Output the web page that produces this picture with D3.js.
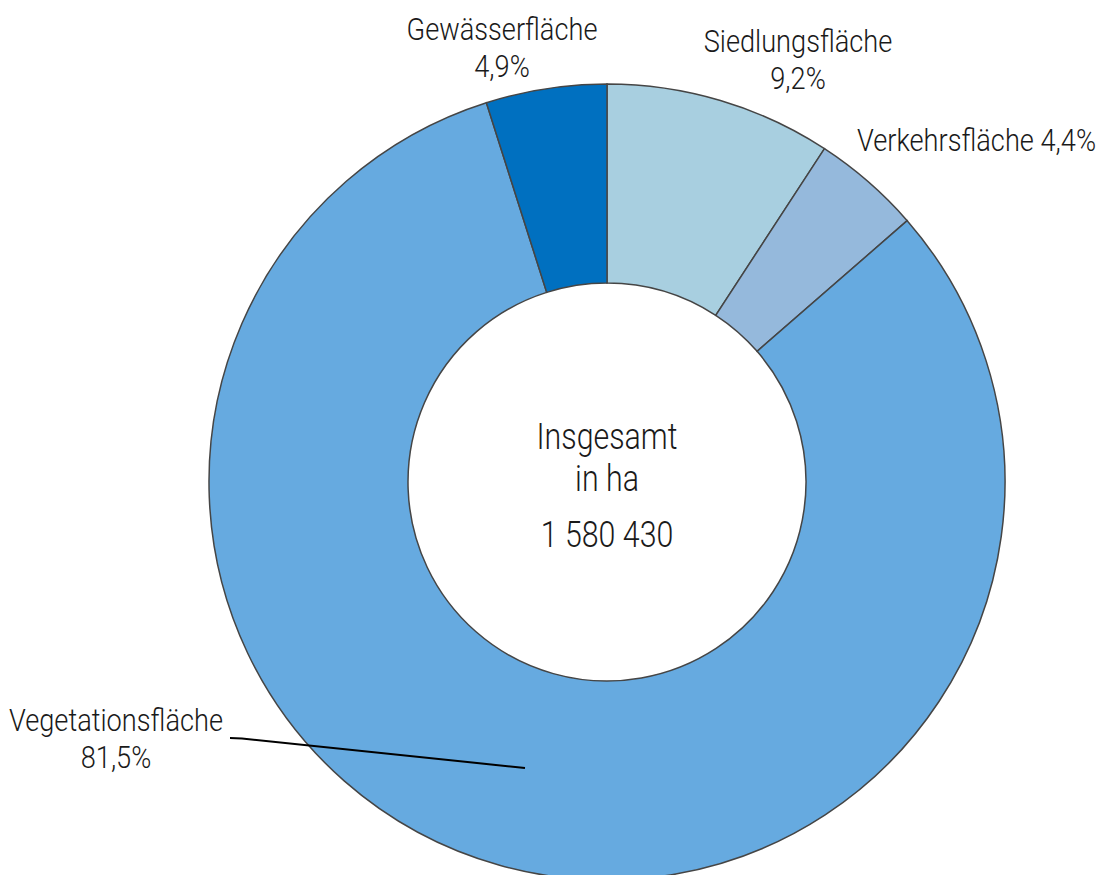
<!DOCTYPE html>
<html>
<head>
    <meta charset="utf-8">
    <script type="text/javascript" src="https://d3js.org/d3.v7.min.js"></script>
    <style>
        body { margin: 0; background: #fff; }
        text { font-family: Roboto, "Liberation Sans", sans-serif; font-weight: 300; fill: #1a1a1a; }
    </style>
</head>
<body>
    <svg width="1098" height="875"></svg>
    <script>
        // Flächennutzung, Anteile in %
        const categories = ["Siedlungsfläche", "Verkehrsfläche", "Vegetationsfläche", "Gewässerfläche"];
        const shares = [9.2, 4.4, 81.5, 4.9];
        const shareLabels = ["9,2%", "4,4%", "81,5%", "4,9%"];
        const colors = ["#a8cfe0", "#95b9dc", "#66aae0", "#0070c0"];
        const centerLines = ["Insgesamt", "in ha", "1 580 430"];

        const svg = d3.select("svg");
        const cx = 607, cy = 482, rOuter = 398, rInner = 199;

        const pie = d3.pie().sort(null).value(d => d.value);
        const arc = d3.arc().innerRadius(rInner).outerRadius(rOuter);
        const data = pie(categories.map((c, i) => ({ name: c, value: shares[i], label: shareLabels[i], color: colors[i] })));

        const g = svg.append("g").attr("transform", `translate(${cx},${cy})`);

        g.selectAll("path.slice")
            .data(data)
            .enter()
            .append("path")
            .attr("class", "slice")
            .attr("d", arc)
            .attr("fill", d => d.data.color)
            .attr("stroke", "#454545")
            .attr("stroke-width", 1.5);

        // helper: squeezed text block (narrow look of the original font)
        function label(x, y, lines, anchor, size, squeeze, gap) {
            const t = svg.append("g")
                .attr("transform", `translate(${x},${y}) scale(${squeeze},1)`)
                .append("text")
                .attr("text-anchor", anchor)
                .style("font-size", size + "px");
            lines.forEach((l, i) => {
                t.append("tspan").attr("x", 0).attr("y", i === 0 ? 0 : gap[i - 1]).text(l);
            });
        }

        // center text
        label(cx, cy - 33, centerLines, "middle", 37, 0.82, [42, 98]);

        // label placement (absolute page coords), one entry per slice
        const labelPos = [
            { x: 798, y: 52, anchor: "middle" },
            { x: 1096, y: 151, anchor: "end", oneLine: true },
            { x: 116, y: 731, anchor: "middle" },
            { x: 502, y: 40, anchor: "middle" }
        ];

        data.forEach((d, i) => {
            const p = labelPos[i];
            const lines = p.oneLine ? [d.data.name + " " + d.data.label] : [d.data.name, d.data.label];
            label(p.x, p.y, lines, p.anchor, 32, 0.85, [37]);
        });

        // leader line for Vegetationsfläche
        svg.append("path")
            .attr("d", d3.line()([[230, 738], [242, 738.5], [525, 768]]))
            .attr("fill", "none")
            .attr("stroke", "#000")
            .attr("stroke-width", 2);
    </script>
</body>
</html>
